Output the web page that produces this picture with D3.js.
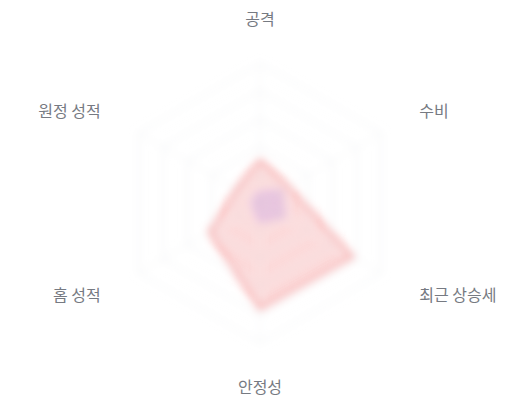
<!DOCTYPE html>
<html>
<head>
<meta charset="utf-8">
<script src="https://cdn.jsdelivr.net/npm/d3@7"></script>
<style>
  html, body { margin: 0; padding: 0; background: #fff; }
  svg { display: block; }
  .axis-label { font-family: "Noto Sans CJK KR", "Noto Sans", sans-serif; font-size: 16px; fill: #767a82; }
</style>
</head>
<body>
<svg id="chart" width="520" height="400"></svg>
<script>
// axes of the radar, clockwise from top
const axes = ['공격', '수비', '최근 상승세', '안정성', '홈 성적', '원정 성적'];
// team series (red) and comparison series (purple), 0..100
const teamValues = [31, 24, 77, 76, 42, 20];
const otherValues = [8, 18, 20, 14, 6, 6];
const gridLevels = [20, 40, 60, 80, 100];

const cx = 260, cy = 203;
const R = 140;        // outer grid radius
const labelR = 184;   // label distance

const svg = d3.select('#chart');

// soft blur over the plot area
const defs = svg.append('defs');
defs.append('filter').attr('id', 'blur')
  .attr('x', '-20%').attr('y', '-20%').attr('width', '140%').attr('height', '140%')
  .append('feGaussianBlur').attr('stdDeviation', 4.5);

const angle = d3.scalePoint().domain(axes).range([0, 2 * Math.PI * (axes.length - 1) / axes.length]);
const r = d3.scaleLinear().domain([0, 100]).range([0, R]);

const radial = d3.lineRadial()
  .angle((d, i) => angle(axes[i]))
  .radius(d => r(d))
  .curve(d3.curveLinearClosed);

const plot = svg.append('g')
  .attr('transform', `translate(${cx},${cy})`)
  .attr('filter', 'url(#blur)');

// grid hexagons
plot.selectAll('path.grid')
  .data(gridLevels)
  .join('path')
    .attr('class', 'grid')
    .attr('d', lvl => radial(axes.map(() => lvl)))
    .attr('fill', 'none')
    .attr('stroke', '#eaebee')
    .attr('stroke-width', 1);

// spokes
plot.selectAll('line.spoke')
  .data(axes)
  .join('line')
    .attr('class', 'spoke')
    .attr('x1', 0).attr('y1', 0)
    .attr('x2', d => r(100) * Math.sin(angle(d)))
    .attr('y2', d => -r(100) * Math.cos(angle(d)))
    .attr('stroke', '#f0f1f3')
    .attr('stroke-width', 1);

// series
plot.append('path')
  .attr('d', radial(teamValues))
  .attr('fill', 'rgba(239, 68, 68, 0.2)')
  .attr('stroke', 'rgba(239, 68, 68, 0.5)')
  .attr('stroke-width', 3)
  .attr('stroke-linejoin', 'round');

plot.append('path')
  .attr('d', radial(otherValues))
  .attr('fill', 'rgba(139, 92, 246, 0.18)')
  .attr('stroke', 'rgba(139, 92, 246, 0.15)')
  .attr('stroke-width', 2)
  .attr('stroke-linejoin', 'round');

// axis labels (kept sharp)
svg.append('g').selectAll('text')
  .data(axes)
  .join('text')
    .attr('class', 'axis-label')
    .attr('x', d => cx + labelR * Math.sin(angle(d)))
    .attr('y', d => cy - labelR * Math.cos(angle(d)))
    .attr('dy', '0.35em')
    .attr('text-anchor', d => {
      const s = Math.sin(angle(d));
      return s > 0.1 ? 'start' : s < -0.1 ? 'end' : 'middle';
    })
    .text(d => d);
</script>
</body>
</html>
